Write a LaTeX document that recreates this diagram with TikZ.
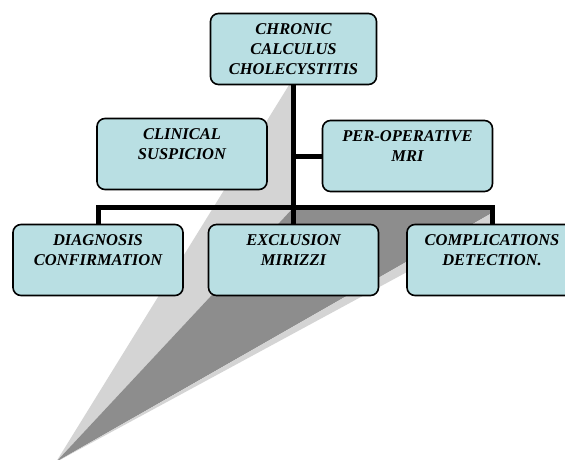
\documentclass[tikz,border=0pt]{standalone}
\usepackage{fontspec}
\setmainfont{Liberation Serif}
\definecolor{boxfill}{RGB}{185,223,227}
\definecolor{shadelight}{RGB}{212,212,212}
\definecolor{shadedark}{RGB}{141,141,141}
\tikzset{
  box/.style={draw, line width=1.6pt, rounded corners=8pt, fill=boxfill,
    minimum width=170pt, minimum height=71pt, inner sep=0pt, align=center,
    font=\fontsize{16.5}{20}\selectfont\bfseries\itshape},
  link/.style={line width=5pt}
}

\begin{document}
\begin{tikzpicture}[x=1pt, y=-1pt]
  \useasboundingbox (0,0) rectangle (565,459);

  % perspective shadow of the tree
  \fill[shadelight] (56,462) -- (289,85) -- (294,85) -- (294,207) -- cycle;
  \fill[shadedark] (56,462) -- (294,207) -- (492,207) -- (492,213) -- cycle;
  \fill[shadelight] (56,462) -- (492,213) -- (492,226) -- cycle;

  \node[box, minimum width=166pt] (chronic) at (293.5,49) {CHRONIC\\CALCULUS\\CHOLECYSTITIS};
  \node[box] (clinical) at (182,154) {CLINICAL\\SUSPICION\\~};
  \node[box] (perop) at (407.5,156) {PER-OPERATIVE\\MRI\\~};

  \node[box] (diag) at (98,260) {DIAGNOSIS\\CONFIRMATION\\~};
  \node[box] (excl) at (293.5,260) {EXCLUSION\\MIRIZZI\\~};
  \node[box] (compl) at (492,260) {COMPLICATIONS\\DETECTION.\\~};

  \coordinate (bus) at (0,207);
  \draw[link] (chronic.south) -- (excl.north);
  \draw[link] (chronic.south |- perop.west) -- (perop.west);
  \draw[link] (diag.north) -- (diag.north |- bus) -- (compl.north |- bus) -- (compl.north);
\end{tikzpicture}
\end{document}
